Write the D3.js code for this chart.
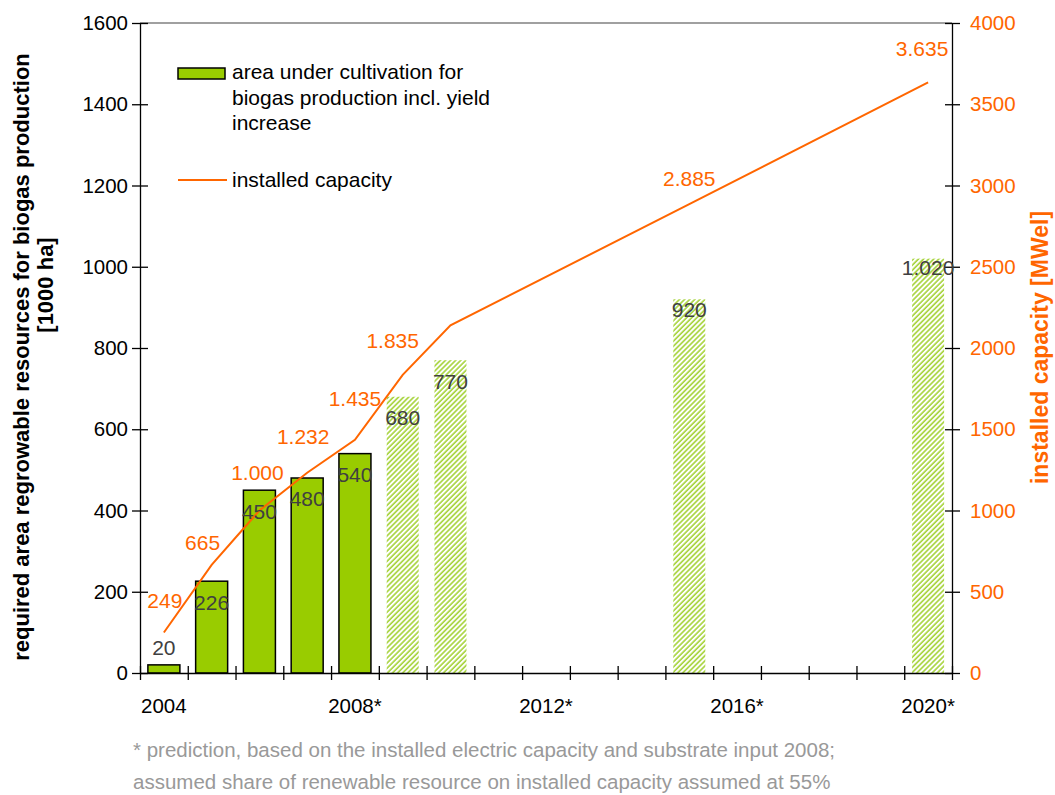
<!DOCTYPE html>
<html lang="en">
<head>
<meta charset="UTF-8">
<title>Biogas: cultivation area and installed capacity</title>
<script src="https://d3js.org/d3.v7.min.js"></script>
<style>
  body { margin: 0; background: #fff; }
  text { font-family: "Liberation Sans", Arial, sans-serif; }
</style>
</head>
<body>
<svg width="1055" height="795"></svg>
<script>
// categories (one slot per year)
var years = ["2004", "2005", "2006", "2007", "2008", "2009", "2010", "2011", "2012",
             "2013", "2014", "2015", "2016", "2017", "2018", "2019", "2020"];
// area under cultivation [1000 ha], null = no bar
var area = [20, 226, 450, 480, 540, 680, 770, null, null, null, null, 920, null, null, null, null, 1020];
// installed capacity [MWel], null = no point
var capacity = [249, 665, 1000, 1232, 1435, 1835, 2140, null, null, null, null, 2885, null, null, null, null, 3635];
var unlabeledYears = ["2010"];
var lastActualYear = 2008;

var axisYears = ["2004", "2008", "2012", "2016", "2020"];
var axisLabels = ["2004", "2008*", "2012*", "2016*", "2020*"];
var areaTicks = [0, 200, 400, 600, 800, 1000, 1200, 1400, 1600];
var capTicks = [0, 500, 1000, 1500, 2000, 2500, 3000, 3500, 4000];

var green = "#99cc00", orange = "#ff6600";
var svg = d3.select("svg");
var plotLeft = 140, plotRight = 952, plotTop = 23, plotBottom = 673;

var x = d3.scaleBand().domain(years).range([plotLeft, plotRight]).paddingInner(0.33).paddingOuter(0.165);
var slot = d3.scaleLinear().domain([0, years.length]).range([plotLeft, plotRight]);
var yArea = d3.scaleLinear().domain([0, 1600]).range([plotBottom, plotTop]);
var yCap = d3.scaleLinear().domain([0, 4000]).range([plotBottom, plotTop]);
var de = d3.formatLocale({ decimal: ",", thousands: ".", grouping: [3], currency: ["", "€"] }).format(",");

// hatch for predicted bars
var hs = 3.6;
var pat = svg.append("defs").append("pattern")
    .attr("id", "hatch")
    .attr("patternUnits", "userSpaceOnUse")
    .attr("width", hs).attr("height", hs)
    .attr("patternTransform", "rotate(45)");
pat.append("rect").attr("width", hs).attr("height", hs).attr("fill", "#fff");
pat.append("line").attr("x1", 1).attr("y1", 0).attr("x2", 1).attr("y2", hs)
    .attr("stroke", "#a6d33a").attr("stroke-width", 1.6);

var bars = years.map(function(y, i) { return { year: y, v: area[i] }; })
    .filter(function(d) { return d.v != null; });
var points = years.map(function(y, i) { return { year: y, v: capacity[i] }; })
    .filter(function(d) { return d.v != null; });

// plot top border
svg.append("line").attr("x1", plotLeft).attr("x2", plotRight).attr("y1", plotTop).attr("y2", plotTop)
    .attr("stroke", "#808080").attr("stroke-width", 1.3);

// bars
svg.append("g").selectAll("rect")
    .data(bars)
    .enter().append("rect")
    .attr("x", function(d) { return x(d.year); })
    .attr("y", function(d) { return yArea(d.v); })
    .attr("width", x.bandwidth())
    .attr("height", function(d) { return yArea(0) - yArea(d.v); })
    .attr("fill", function(d) { return +d.year > lastActualYear ? "url(#hatch)" : green; })
    .attr("stroke", function(d) { return +d.year > lastActualYear ? "none" : "#000"; })
    .attr("stroke-width", 1.5);

// axes
var xAxis = svg.append("g")
    .attr("transform", "translate(0," + plotBottom + ")")
    .call(d3.axisBottom(slot).tickValues(d3.range(years.length + 1)).tickFormat("").tickSizeOuter(0));
xAxis.selectAll(".tick line").attr("y1", -7).attr("y2", 7);

var yAxisL = svg.append("g")
    .attr("transform", "translate(" + plotLeft + ",0)")
    .call(d3.axisLeft(yArea).tickValues(areaTicks).tickFormat(d3.format("d"))
        .tickSizeInner(8).tickSizeOuter(0).tickPadding(4));
yAxisL.selectAll(".tick line").attr("x1", -8).attr("x2", 8);

var yAxisR = svg.append("g")
    .attr("transform", "translate(" + plotRight + ",0)")
    .call(d3.axisRight(yCap).tickValues(capTicks).tickFormat(d3.format("d"))
        .tickSizeInner(8).tickSizeOuter(0).tickPadding(10));
yAxisR.selectAll(".tick line").attr("x1", -7).attr("x2", 8);

svg.selectAll(".domain, .tick line").attr("stroke", "#000").attr("stroke-width", 1.3);
yAxisL.selectAll(".tick text").attr("font-size", 20.5).attr("fill", "#000");
yAxisR.selectAll(".tick text").attr("font-size", 20.5).attr("fill", orange);

svg.append("g").selectAll("text")
    .data(axisYears)
    .enter().append("text")
    .attr("x", function(d) { return x(d) + x.bandwidth() / 2; })
    .attr("y", 713)
    .attr("text-anchor", "middle")
    .attr("font-size", 20.5)
    .text(function(d, i) { return axisLabels[i]; });

// capacity line
var line = d3.line()
    .x(function(d) { return x(d.year) + x.bandwidth() / 2; })
    .y(function(d) { return yCap(d.v); });
svg.append("path")
    .datum(points)
    .attr("d", line)
    .attr("fill", "none")
    .attr("stroke", orange)
    .attr("stroke-width", 2);

// bar value labels (mostly inside the top of the bar)
var barLabelShift = { "2004": -17, "2015": 10, "2020": 9 };
svg.append("g").selectAll("text")
    .data(bars)
    .enter().append("text")
    .attr("x", function(d) { return x(d.year) + x.bandwidth() / 2; })
    .attr("y", function(d) { return yArea(d.v) + (barLabelShift[d.year] != null ? barLabelShift[d.year] : 21); })
    .attr("dy", "0.35em")
    .attr("text-anchor", "middle")
    .attr("font-size", 21)
    .attr("fill", "#404040")
    .text(function(d) { return de(d.v); });

// capacity labels
var capLabelShift = {
    "2004": [1, -32], "2005": [-9, -22], "2006": [-2, -38], "2007": [-4, -36],
    "2008": [0, -41], "2009": [-10, -34], "2015": [0, -26], "2020": [-6, -34]
};
svg.append("g").selectAll("text")
    .data(points.filter(function(d) { return unlabeledYears.indexOf(d.year) < 0; }))
    .enter().append("text")
    .attr("x", function(d) { return x(d.year) + x.bandwidth() / 2 + (capLabelShift[d.year] || [-4, -34])[0]; })
    .attr("y", function(d) { return yCap(d.v) + (capLabelShift[d.year] || [-4, -34])[1]; })
    .attr("dy", "0.35em")
    .attr("text-anchor", "middle")
    .attr("font-size", 21)
    .attr("fill", orange)
    .text(function(d) { return de(d.v); });

// legend
var legend = svg.append("g");
legend.append("rect").attr("x", 178).attr("y", 68).attr("width", 47).attr("height", 11)
    .attr("fill", green).attr("stroke", "#000").attr("stroke-width", 1.5);
legend.append("text").attr("x", 232).attr("y", 79).attr("font-size", 21)
    .selectAll("tspan")
    .data(["area under cultivation for", "biogas production incl. yield", "increase"])
    .enter().append("tspan")
    .attr("x", 232)
    .attr("dy", function(d, i) { return i === 0 ? 0 : 25.5; })
    .text(function(d) { return d; });
legend.append("line").attr("x1", 178).attr("x2", 227).attr("y1", 180).attr("y2", 180)
    .attr("stroke", orange).attr("stroke-width", 2);
legend.append("text").attr("x", 232).attr("y", 187).attr("font-size", 21).text("installed capacity");

// axis titles
svg.append("text")
    .attr("transform", "translate(29,357) rotate(-90)")
    .attr("text-anchor", "middle").attr("font-size", 22).attr("font-weight", "bold")
    .text("required area regrowable resources for biogas production");
svg.append("text")
    .attr("transform", "translate(53,285) rotate(-90)")
    .attr("text-anchor", "middle").attr("font-size", 22).attr("font-weight", "bold")
    .text("[1000 ha]");
svg.append("text")
    .attr("transform", "translate(1048,347.5) rotate(-90)")
    .attr("text-anchor", "middle").attr("font-size", 23).attr("font-weight", "bold")
    .attr("fill", orange)
    .text("installed capacity [MWel]");

// footnote
svg.append("text").attr("x", 133).attr("y", 757).attr("font-size", 20.5).attr("fill", "#999")
    .text("* prediction, based on the installed electric capacity and substrate input 2008;");
svg.append("text").attr("x", 133).attr("y", 789).attr("font-size", 20.5).attr("fill", "#999")
    .text("assumed share of renewable resource on installed capacity assumed at 55%");
</script>
</body>
</html>
